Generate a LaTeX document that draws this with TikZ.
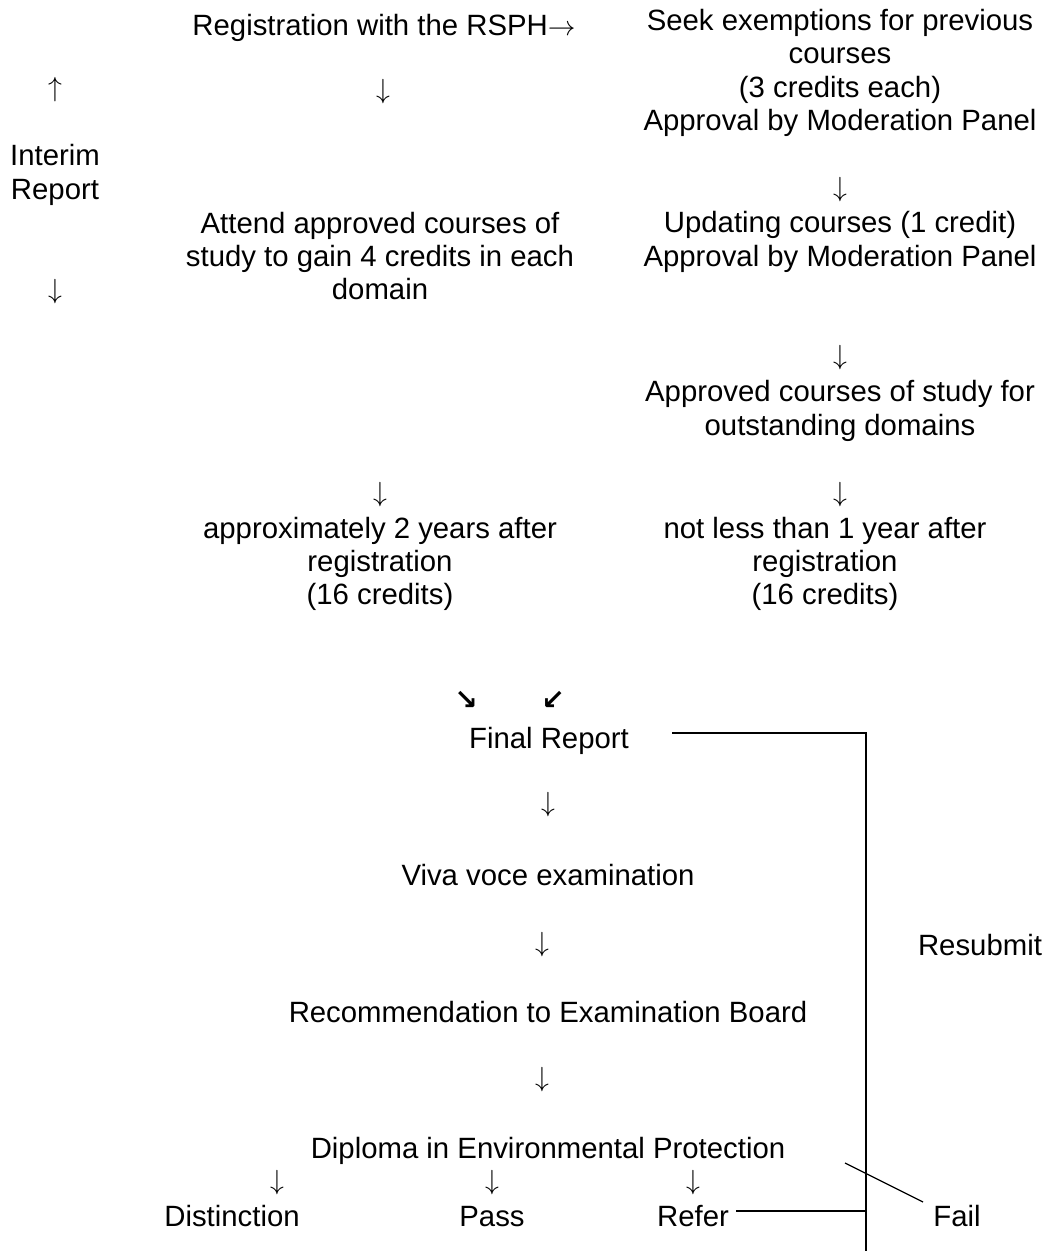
\documentclass[tikz,border=0pt]{standalone}
\usepackage{fontspec}
\setmainfont{Liberation Sans}
\newfontfamily\arrowfont{DejaVu Sans Bold}
\usetikzlibrary{positioning}
\tikzset{txt/.style={align=center, inner sep=0pt, text depth=4.8pt, font=\fontsize{22}{25}\selectfont},
         one/.style={txt, text height=15.8pt, yshift=-1.5pt},
         arr/.style={align=center, inner sep=0pt, font=\fontsize{22}{25}\selectfont},
         diag/.style={inner sep=0pt, font=\arrowfont\fontsize{21}{24}\selectfont},
         rule/.style={line width=1.2pt}}

\begin{document}
\begin{tikzpicture}[x=0.75pt, y=-0.75pt]
  \useasboundingbox (0,0) rectangle (1048,1251);

  % top part
  \node[one] (reg) at (384, 26) {Registration with the RSPH$\rightarrow$};
  \node[txt] (seek) at (840, 73) {Seek exemptions for previous\\courses\\(3 credits each)\\Approval by Moderation Panel};
  \node[arr] (up) at (55, 90) {$\uparrow$};
  \node[arr] (dreg) at (383, 92) {$\downarrow$};
  \node[txt] (interim) at (55, 175) {Interim\\Report};
  \node[arr] (dseek) at (840, 190) {$\downarrow$};
  \node[txt] (upd) at (840, 242) {Updating courses (1 credit)\\Approval by Moderation Panel};
  \node[txt] (attend) at (380, 259) {Attend approved courses of\\study to gain 4 credits in each\\domain};
  \node[arr] (down) at (55, 292) {$\downarrow$};
  \node[arr] (dupd) at (840, 358) {$\downarrow$};
  \node[txt] (appr) at (840, 411) {Approved courses of study for\\outstanding domains};
  \node[arr] (dattend) at (380, 495) {$\downarrow$};
  \node[arr] (dappr) at (840, 495) {$\downarrow$};
  \node[txt] (approx) at (380, 564) {approximately 2 years after\\registration\\(16 credits)};
  \node[txt] (notless) at (825, 564) {not less than 1 year after\\registration\\(16 credits)};

  % final stage
  \node[diag] (se) at (466, 700) {↘};
  \node[diag] (sw) at (553, 700) {↙};
  \node[one] (final) at (549, 739) {Final Report};
  \node[arr] (dfinal) at (548, 805) {$\downarrow$};
  \node[one] (viva) at (548, 876) {Viva voce examination};
  \node[arr] (dviva) at (542, 945) {$\downarrow$};
  \node[one] (resub) at (980, 946) {Resubmit};
  \node[one] (recom) at (548, 1013) {Recommendation to Examination Board};
  \node[arr] (drecom) at (542, 1080) {$\downarrow$};
  \node[one] (dipl) at (548, 1149) {Diploma in Environmental Protection};
  \node[arr] (d1) at (277, 1183) {$\downarrow$};
  \node[arr] (d2) at (492, 1183) {$\downarrow$};
  \node[arr] (d3) at (693, 1183) {$\downarrow$};
  \node[one] (dist) at (232, 1217) {Distinction};
  \node[one] (pass) at (492, 1217) {Pass};
  \node[one] (refer) at (693, 1217) {Refer};
  \node[one] (fail) at (957, 1217) {Fail};

  % resubmit loop
  \coordinate (fstart) at (672, 733);
  \coordinate (corner) at (866, 733);
  \coordinate (bottom) at (866, 1251);
  \coordinate (rstart) at (736, 1211);
  \coordinate (join) at (866, 1211);
  \coordinate (slash) at (845, 1163);
  \coordinate (slashend) at (923, 1202);
  \draw[rule] (fstart) -- (corner) -- (bottom);
  \draw[line width=0.9pt] (rstart) -- (join);
  \draw[line width=0.9pt] (slash) -- (slashend);
\end{tikzpicture}
\end{document}
